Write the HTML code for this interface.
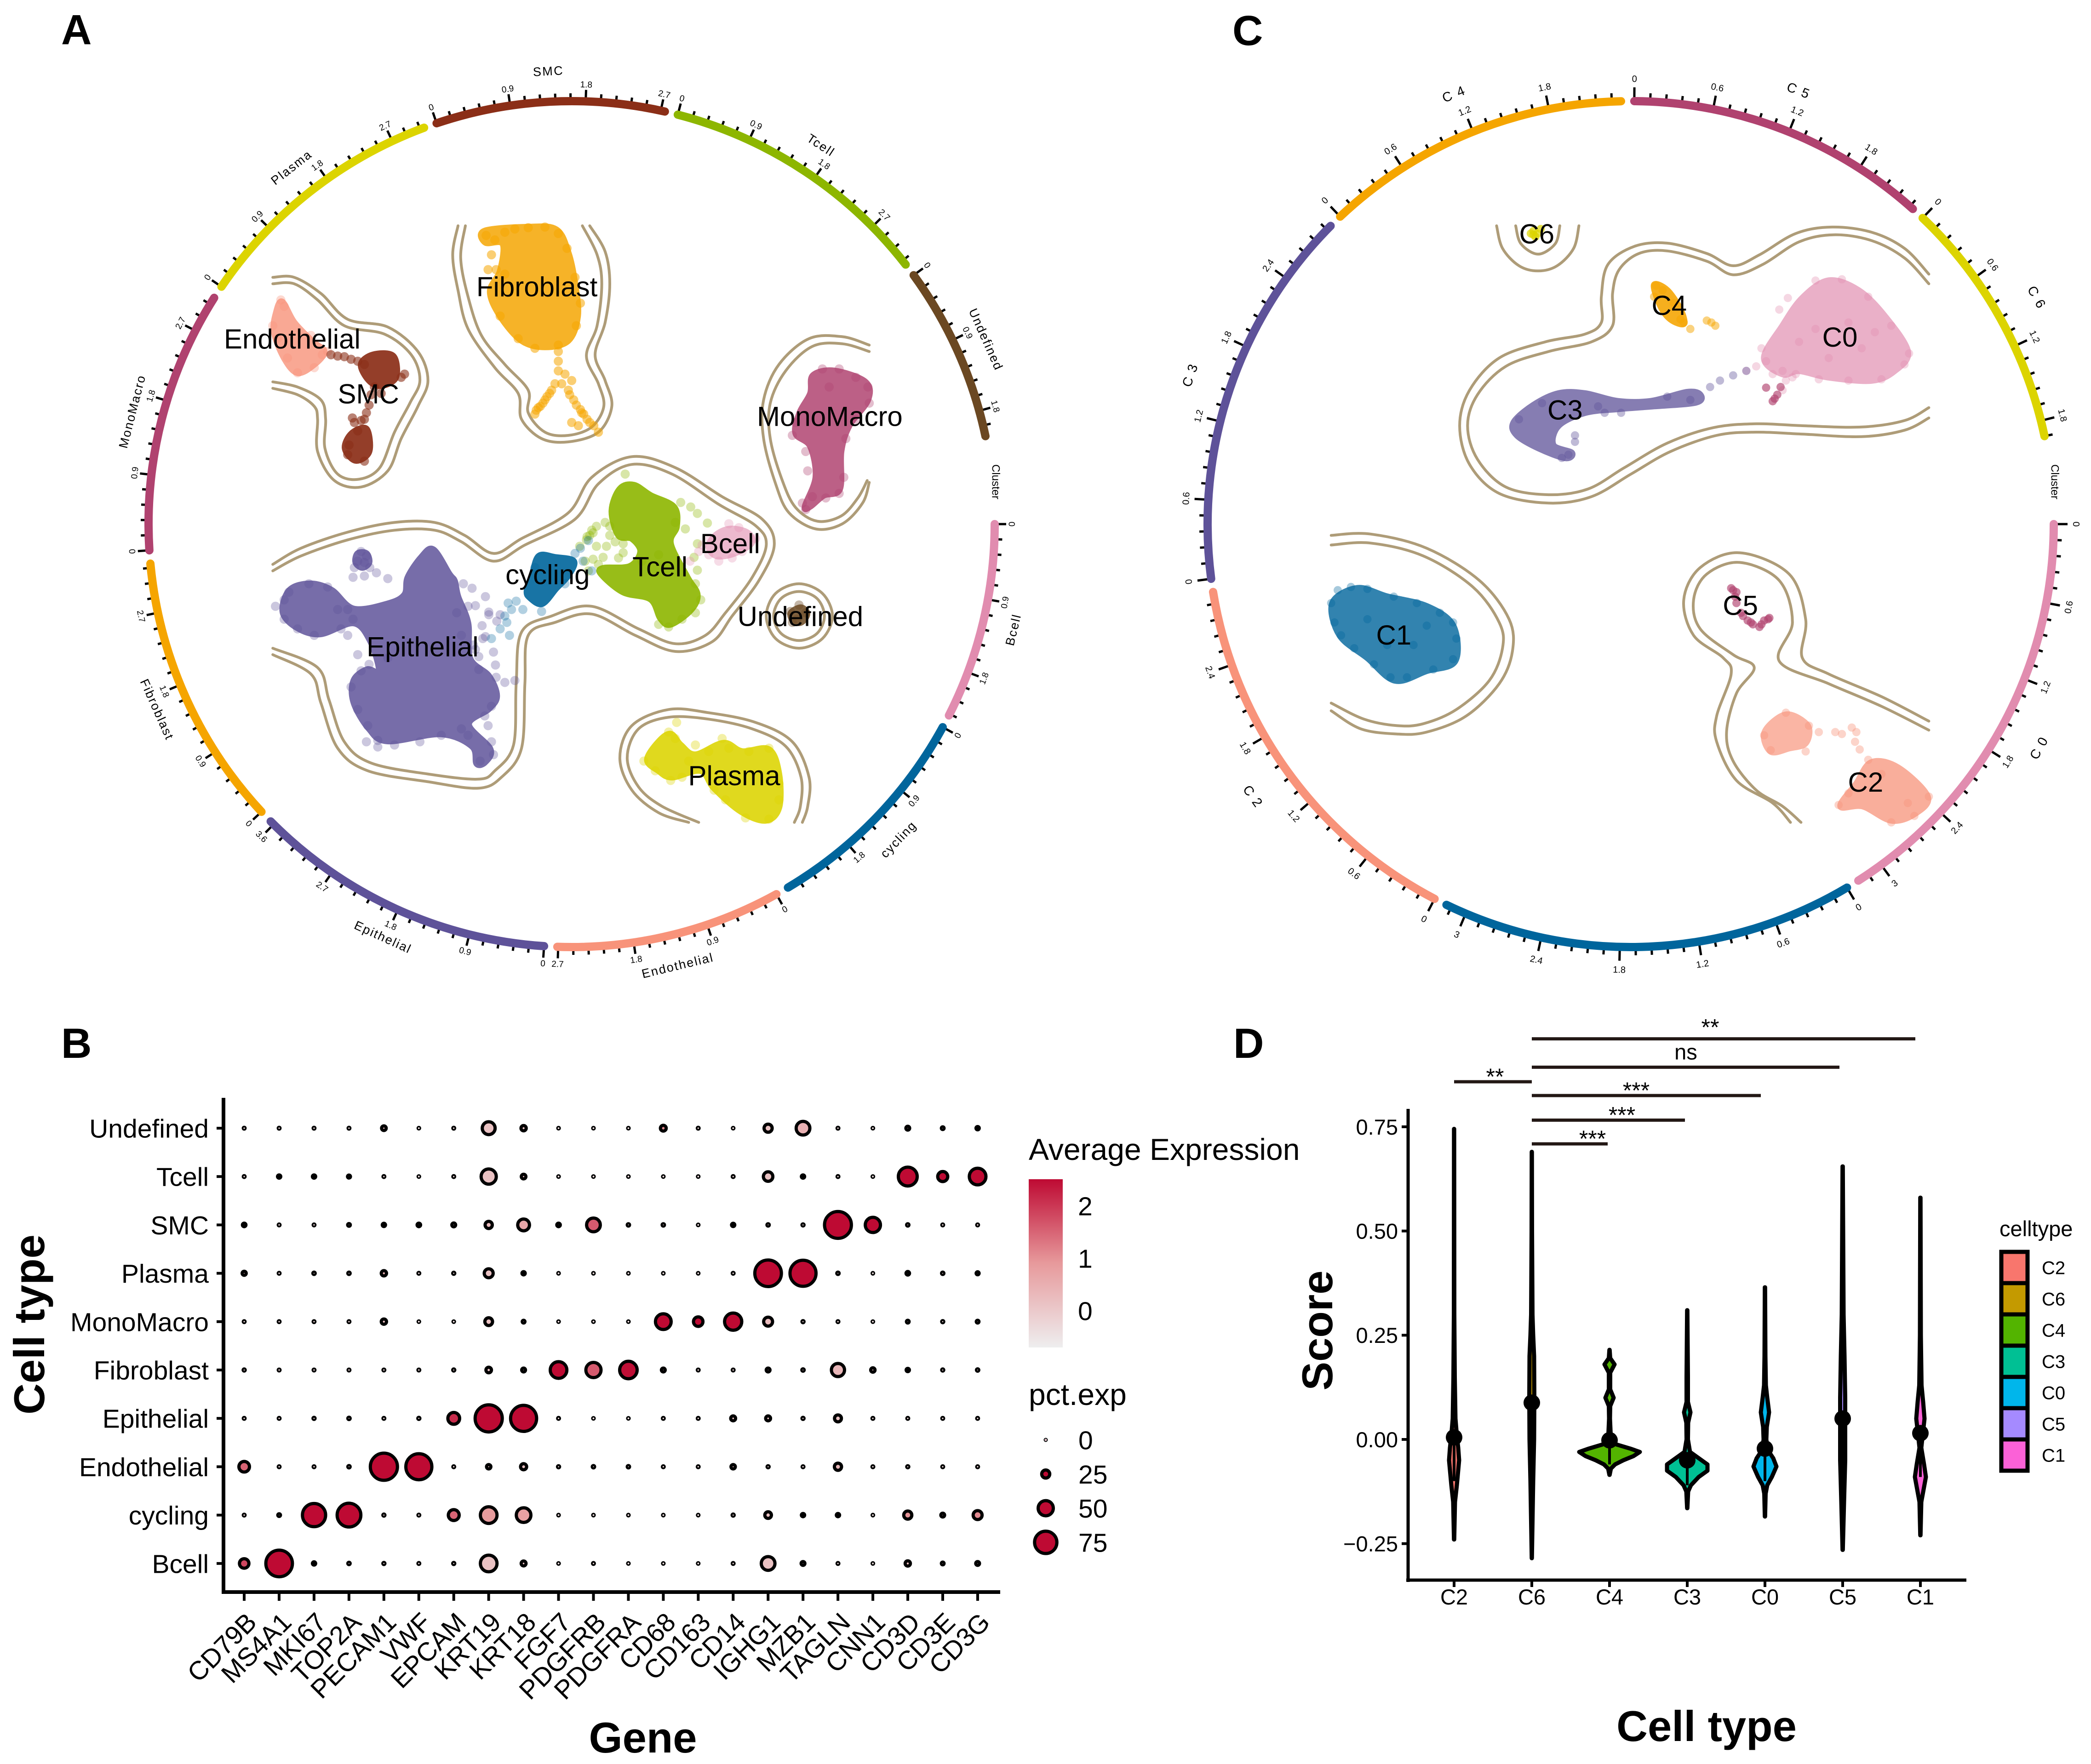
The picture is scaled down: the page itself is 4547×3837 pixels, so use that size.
<!DOCTYPE html>
<html lang="en">
<head>
<meta charset="utf-8">
<title>Single-cell atlas figure</title>
<style>
html,body{margin:0;padding:0;background:#fff;}
svg{display:block;}
text{font-family:"Liberation Sans",sans-serif;fill:#000;}
</style>
</head>
<body>
<svg id="fig" xmlns="http://www.w3.org/2000/svg" width="4547" height="3837" viewBox="0 0 4547 3837">
<defs>
<linearGradient id="expGrad" x1="0" y1="1" x2="0" y2="0">
<stop offset="0" stop-color="#EEEEEF"/>
<stop offset="0.5" stop-color="#E79A9C"/>
<stop offset="1" stop-color="#BE0A33"/>
</linearGradient>
</defs>
<rect x="0" y="0" width="4547" height="3837" fill="#fff"/>
<text x="133" y="96" font-size="92" font-weight="700">A</text>
<text x="133" y="2301" font-size="92" font-weight="700">B</text>
<text x="2680" y="98" font-size="92" font-weight="700">C</text>
<text x="2682" y="2301" font-size="92" font-weight="700">D</text>
<g id="panelA"></g>
<g id="panelC"></g>
<g id="panelB"></g>
<g id="panelD"></g>
<g>
<text x="2237" y="2523" font-size="66">Average Expression</text>
<rect x="2237" y="2565" width="74" height="366" fill="url(#expGrad)"/>
</g>
<text x="2237" y="3056" font-size="66">pct.exp</text>
<text x="4348" y="2689" font-size="47">celltype</text>
</svg>
<script>
var NS = 'http://www.w3.org/2000/svg';

/* ---------- Panel A: sectors ---------- */
var sectorNamesA = ['Bcell','cycling','Endothelial','Epithelial','Fibroblast','MonoMacro','Plasma','SMC','Tcell','Undefined'];
var sectorColorsA = ['#E18CAF','#00659C','#F8937A','#5E5299','#F5A500','#B0426F','#DCD400','#8B2E17','#8DB600','#6B4822'];
var sectorMaxA = [2.36,2.68,2.71,3.65,3.29,3.15,3.11,2.75,3.30,2.11];
var tickValuesA = [0,0.9,1.8,2.7,3.6];
var tickLabelsA = ['0','0.9','1.8','2.7','3.6'];

/* ---------- Panel C: sectors ---------- */
var sectorNamesC = ['C 0','C 1','C 2','C 3','C 4','C 5','C 6'];
var sectorColorsC = ['#E18CAF','#00659C','#F8937A','#5E5299','#F5A500','#B0426F','#DCD400'];
var sectorMaxC = [3.21,3.16,2.97,2.92,2.35,2.31,1.92];
var tickValuesC = [0,0.6,1.2,1.8,2.4,3];
var tickLabelsC = ['0','0.6','1.2','1.8','2.4','3'];
var clippedSectorNames = ['C 1'];

/* ---------- Panel A: UMAP clusters (UMAP units) ---------- */
var epithelialHull = [[630,864],[648,852],[672,890],[680,901],[685,925],[700,966],[703,1021],[731,1048],[743,1079],[731,1099],[701,1123],[733,1161],[726,1181],[713,1184],[706,1157],[660,1138],[580,1149],[552,1130],[529,1089],[529,1055],[549,1038],[567,1041],[554,994],[529,966],[479,983],[444,973],[423,949],[433,915],[464,905],[496,915],[529,944],[580,936],[605,922],[610,895]];
var epithelialSmallHull = [[535,858],[548,858],[552,872],[542,880],[532,872]];
var epithelialPts = [[540,855],[548,862],[535,870],[545,872],[553,880],[530,880],[528,895],[545,893],[563,888],[580,897],[412,940],[425,930],[432,918],[462,905],[490,910],[520,945],[528,960],[505,945],[706,912],[693,905],[726,925],[711,939],[731,949],[748,953],[743,963],[721,970],[726,987],[738,1011],[741,1031],[711,1007],[716,1038],[731,953],[755,1058],[770,1055],[725,1110],[735,1095],[730,1125],[735,1150],[738,1170],[718,1180],[700,1140],[690,1130],[660,1140],[628,1150],[590,1155],[565,1148],[550,1125],[535,1100],[525,1065],[540,1040],[552,1030],[580,1020],[535,1015],[520,985],[510,975],[470,985],[445,975],[425,960],[708,1000],[716,1018],[722,990],[742,1050],[548,1150],[565,1158],[683,950],[690,985],[700,940]];
var tcellHull = [[927,758],[948,752],[973,768],[1008,786],[1012,816],[1003,843],[1028,895],[1043,922],[1033,946],[1003,968],[988,959],[973,929],[932,918],[900,891],[902,881],[942,878],[958,855],[945,835],[925,830],[915,792]];
var tcellPts = [[935,735],[887,826],[877,837],[867,847],[892,816],[912,816],[887,867],[907,847],[932,857],[932,843],[892,847],[902,864],[912,830],[882,830],[885,822],[878,832],[1018,779],[1033,786],[1043,796],[1058,811],[1043,843],[1038,864],[1043,884],[880,885],[960,870],[985,860],[1040,905],[1048,930],[1040,950],[1020,960],[1000,972],[985,968],[1010,810],[1025,820],[905,810],[920,840],[925,865],[895,875],[875,870]];
var cyclingHull = [[806,862],[830,864],[858,870],[850,892],[832,912],[811,936],[793,927],[788,916],[796,891]];
var cyclingPts = [[860,858],[868,850],[880,838],[872,870],[885,885],[760,935],[772,932],[782,945],[765,945],[755,955],[762,985],[758,965],[735,990],[748,975],[810,948],[800,880],[845,905]];
var bcellHull = [[1070,830],[1092,820],[1118,826],[1124,842],[1098,858],[1072,862],[1060,848]];
var bcellPts = [[1050,845],[1060,860],[1075,870],[1095,865],[1110,855],[1130,835],[1090,812],[1105,818],[1045,855],[1062,835],[1032,870]];
var undefinedHull = [[1183,950],[1198,942],[1207,952],[1198,965],[1186,962]];
var undefinedPts = [[1195,938],[1182,948],[1205,950],[1192,960],[1185,965]];
var plasmaHull = [[968,1178],[985,1150],[1003,1138],[1018,1155],[1040,1170],[1082,1152],[1110,1165],[1150,1162],[1165,1200],[1165,1252],[1145,1272],[1108,1258],[1068,1222],[1048,1195],[1005,1205],[985,1195]];
var plasmaPts = [[963,1180],[980,1195],[1000,1135],[1010,1145],[1012,1120],[1080,1145],[1090,1160],[1060,1165],[1040,1155],[1120,1165],[1150,1160],[1165,1215],[1165,1240],[1150,1270],[1115,1268],[1085,1240],[1068,1225],[1020,1205],[1003,1210],[1030,1180]];
var monoHull = [[1216,582],[1248,575],[1294,592],[1298,620],[1270,660],[1258,700],[1256,758],[1232,768],[1212,785],[1204,785],[1220,740],[1212,692],[1190,672],[1196,640],[1212,610]];
var monoPts = [[1230,572],[1255,572],[1280,585],[1298,600],[1300,625],[1280,650],[1265,680],[1190,655],[1185,675],[1205,700],[1208,730],[1262,740],[1255,765],[1235,772],[1205,790],[1200,780],[1215,770],[1240,600]];
var endoHull = [[422,468],[440,500],[468,530],[485,545],[470,565],[445,578],[425,555],[410,515],[413,485]];
var endoPts = [[420,465],[425,475],[408,505],[415,525],[430,555],[445,578],[470,570],[482,550],[490,545],[465,520]];
var smcHull = [[558,550],[588,552],[592,585],[570,598],[552,590],[540,565]];
var smcHull2 = [[526,672],[548,665],[552,700],[532,714],[516,695]];
var smcPts = [[495,550],[505,552],[515,553],[525,557],[535,560],[545,565],[600,585],[560,600],[555,612],[552,628],[548,640],[540,652],[530,655],[527,648],[535,668],[545,650],[522,690],[545,715],[520,705],[570,610],[605,580]];
var fibroHull = [[725,358],[790,352],[832,356],[850,392],[860,440],[864,490],[850,528],[815,538],[780,528],[748,490],[733,452],[748,420],[752,378],[726,376]];
var fibroPts = [[727,365],[740,372],[755,360],[770,355],[790,353],[815,352],[835,362],[848,385],[730,418],[742,418],[755,425],[735,395],[860,430],[868,470],[862,505],[835,535],[800,540],[775,525],[748,490],[835,545],[835,560],[835,575],[845,580],[840,595],[855,590],[825,605],[815,620],[805,632],[800,642],[850,605],[858,620],[868,635],[878,650],[888,660],[855,655],[865,660],[830,595],[895,670],[808,630],[812,625],[818,615],[862,628],[873,642],[882,655],[802,636],[822,610],[852,612],[870,640]];

var contoursA = [
 [[685,350],[677,395],[685,450],[700,510],[740,570],[775,610],[780,650],[810,680],[850,685],[895,670],[915,630],[905,590],[890,550],[905,500],[912,440],[905,390],[882,350]],
 [[696,350],[689,400],[700,460],[720,520],[755,565],[790,605],[790,640],[815,670],[850,675],[885,662],[903,630],[895,595],[877,552],[893,505],[900,440],[893,395],[871,350]],
 [[408,430],[440,430],[480,455],[520,495],[580,507],[625,545],[640,590],[625,630],[600,680],[580,730],[540,755],[500,745],[475,700],[475,650],[470,630],[445,612],[408,602]],
 [[408,440],[440,440],[475,465],[515,505],[575,518],[615,550],[628,590],[613,625],[590,670],[568,725],[537,743],[505,735],[486,695],[487,650],[480,620],[445,600],[408,592]],
 [[1300,535],[1260,522],[1210,525],[1165,565],[1142,620],[1142,680],[1160,750],[1180,795],[1220,820],[1260,812],[1290,780],[1300,748]],
 [[1300,545],[1260,533],[1215,537],[1175,575],[1152,625],[1152,680],[1170,745],[1190,787],[1222,808],[1258,800],[1283,772],[1297,745]],
 [[408,875],[450,850],[520,825],[590,810],[650,810],[695,830],[738,858],[780,835],[850,795],[885,740],[945,708],[1010,725],[1080,770],[1140,805],[1158,845],[1135,900],[1095,955],[1065,995],[1010,1010],[950,985],[885,952],[830,965],[790,985],[785,1060],[780,1160],[750,1205],[715,1222],[640,1212],[550,1195],[505,1160],[480,1090],[465,1045],[408,1015]],
 [[408,885],[450,862],[520,837],[590,822],[650,822],[690,840],[738,870],[785,845],[860,805],[895,750],[945,720],[1005,735],[1075,782],[1130,815],[1146,845],[1125,895],[1085,950],[1055,985],[1010,998],[955,975],[885,940],[825,955],[780,980],[772,1060],[768,1155],[740,1195],[715,1208],[640,1200],[555,1183],[515,1150],[492,1085],[475,1035],[408,1005]],
 [[1030,1275],[985,1260],[945,1225],[927,1175],[945,1125],[1000,1100],[1060,1105],[1130,1120],[1185,1150],[1210,1205],[1208,1250],[1200,1275]],
 [[1045,1275],[990,1250],[955,1220],[938,1175],[955,1130],[1000,1112],[1060,1115],[1125,1130],[1175,1157],[1198,1205],[1197,1250],[1188,1275]]
];
var closedContoursA = [
 [[1195,905],[1230,920],[1245,955],[1230,990],[1195,1005],[1160,990],[1146,955],[1160,920]],
 [[1195,917],[1222,928],[1233,955],[1222,982],[1195,993],[1168,982],[1157,955],[1168,928]]
];
var labelTextA = ['Fibroblast','Endothelial','SMC','MonoMacro','Bcell','cycling','Tcell','Undefined','Epithelial','Plasma'];
var labelXA = [803,437,551,1241,1092,819,987,1197,632,1098];
var labelYA = [444,525,610,645,842,890,878,955,1002,1202];

/* ---------- Panel C: UMAP clusters ---------- */
var c0Hull = [[1170,435],[1215,450],[1255,490],[1290,545],[1270,575],[1235,590],[1170,585],[1125,575],[1100,580],[1072,555],[1100,505],[1130,462]];
var c0Pts = [[1068,540],[1075,560],[1060,568],[1045,575],[1095,480],[1108,462],[1150,435],[1190,433],[1230,460],[1265,505],[1292,548],[1285,565],[1250,588],[1200,590],[1155,588],[1120,580],[1100,575],[1085,580],[1105,590],[1115,585],[1100,605],[1200,500],[1150,510],[1220,540],[1125,530],[1170,555],[1240,515]];
var c1Hull = [[455,912],[500,925],[560,940],[600,970],[603,1025],[560,1040],[512,1055],[470,1020],[428,985],[417,935]];
var c1Pts = [[415,935],[425,915],[445,910],[470,913],[510,925],[545,935],[580,950],[600,965],[605,990],[600,1022],[570,1038],[530,1050],[505,1050],[480,1030],[450,1005],[430,985],[420,965],[470,960],[540,1000],[560,970],[500,1000]];
var c2Hull = [[1105,1108],[1138,1125],[1135,1152],[1110,1160],[1082,1165],[1073,1135]];
var c2Hull2 = [[1235,1182],[1275,1190],[1320,1235],[1300,1262],[1265,1272],[1222,1250],[1188,1250],[1212,1215]];
var c2Pts = [[1105,1105],[1140,1125],[1155,1135],[1135,1165],[1180,1135],[1190,1138],[1205,1128],[1212,1135],[1210,1150],[1217,1162],[1230,1178],[1322,1235],[1265,1275],[1185,1248],[1200,1230],[1300,1265],[1072,1140],[1082,1163],[1250,1200],[1290,1245]];
var c3Hull = [[722,628],[760,610],[800,610],[850,622],[900,622],[955,608],[975,612],[968,624],[900,630],[850,634],[800,640],[760,660],[752,690],[780,702],[770,710],[730,695],[697,675],[692,655]];
var c3Pts = [[990,600],[1005,590],[1025,582],[1045,575],[785,675],[785,685],[855,640],[820,630],[775,705],[765,710],[700,650],[960,620],[830,640],[735,625],[925,615]];
var c4Hull = [[905,442],[925,450],[945,480],[950,502],[930,495],[915,475]];
var c4Pts = [[908,443],[918,450],[935,470],[950,500],[985,497],[992,500],[998,505],[960,510],[905,460],[945,495]];
var c5Pts = [[1025,915],[1028,925],[1030,935],[1037,950],[1047,962],[1055,968],[1065,972],[1072,962],[1080,958],[1052,965],[1040,955],[1075,601],[1088,618],[1097,600],[1085,622],[1092,612],[1022,912],[1030,918],[1068,968],[1078,960]];
var c6Pts = [[722,358],[728,362],[718,362],[725,367],[733,355],[722,364]];
var contoursC = [
 [[666,350],[675,385],[700,412],[729,420],[758,412],[783,385],[791,350]],
 [[695,350],[703,378],[729,394],[755,378],[762,350]],
 [[1322,648],[1285,667],[1220,677],[1130,673],[1060,670],[1000,675],[930,700],[870,735],[810,770],[745,780],[670,765],[625,720],[610,660],[625,605],[670,555],[740,530],[800,518],[825,500],[825,460],[835,410],[875,382],[925,377],[985,393],[1025,412],[1065,395],[1120,362],[1175,352],[1235,360],[1285,385],[1322,425]],
 [[1322,632],[1285,652],[1220,662],[1130,660],[1060,657],[995,663],[925,687],[860,725],[805,758],[745,767],[680,755],[637,712],[622,660],[637,612],[680,568],[745,545],[810,530],[842,505],[842,455],[852,418],[882,393],[925,389],[985,405],[1025,426],[1070,410],[1125,375],[1178,364],[1235,373],[1285,400],[1322,440]],
 [[415,830],[475,828],[560,850],[640,900],[685,960],[690,1010],[670,1060],[620,1110],[560,1135],[515,1138],[460,1130],[415,1102]],
 [[415,845],[475,842],[555,862],[630,910],[670,965],[675,1005],[655,1055],[605,1100],[555,1122],[515,1125],[465,1115],[415,1090]],
 [[1322,1118],[1250,1080],[1170,1045],[1130,1020],[1135,960],[1110,890],[1035,857],[975,880],[950,930],[965,985],[1010,1020],[1022,1045],[1000,1110],[1000,1150],[1030,1210],[1085,1245],[1112,1275]],
 [[1322,1132],[1250,1095],[1170,1060],[1095,1025],[1115,965],[1095,900],[1035,872],[985,890],[965,930],[975,975],[1025,1015],[1057,1035],[1030,1075],[1015,1135],[1025,1180],[1060,1225],[1100,1250],[1128,1275]]
];
var labelTextC = ['C6','C4','C0','C3','C1','C5','C2'];
var labelXC = [727,928,1187,770,510,1036,1226];
var labelYC = [362,473,522,635,984,938,1212];

/* ---------- Panel B: dot plot ---------- */
var genes = ['CD79B','MS4A1','MKI67','TOP2A','PECAM1','VWF','EPCAM','KRT19','KRT18','FGF7','PDGFRB','PDGFRA','CD68','CD163','CD14','IGHG1','MZB1','TAGLN','CNN1','CD3D','CD3E','CD3G'];
var cellTypes = ['Undefined','Tcell','SMC','Plasma','MonoMacro','Fibroblast','Epithelial','Endothelial','cycling','Bcell'];
var pctExp = [
 [3,3,3,3,13,2,3,42,15,2,2,2,17,3,2,25,45,3,2,10,6,8],
 [3,8,8,7,3,2,3,50,13,2,2,2,2,2,3,30,8,3,2,63,32,55],
 [9,3,3,6,8,9,10,22,38,9,45,5,5,2,8,5,4,91,50,5,3,3],
 [11,3,5,5,15,3,4,28,8,2,2,2,2,2,3,90,88,5,2,9,5,7],
 [3,3,3,3,15,2,2,24,6,2,2,2,52,30,57,28,4,3,2,6,4,6],
 [4,3,3,3,3,3,4,16,10,55,50,58,10,3,3,10,5,43,12,8,4,5],
 [3,3,4,5,3,4,38,92,88,3,2,2,3,3,14,14,4,21,3,3,3,3],
 [34,3,3,5,92,88,3,12,18,4,5,5,3,3,12,4,3,22,3,4,3,3],
 [3,6,78,80,4,3,35,55,48,2,2,2,2,2,4,20,8,8,2,25,10,28],
 [30,90,8,5,4,3,4,55,14,2,3,2,2,2,3,45,10,3,2,15,6,10]
];
var avgExp = [
 [-.3,-.3,-.3,-.3,.2,-.3,-.3,.1,.1,-.3,-.3,-.3,1,-.3,-.3,.1,.4,-.3,-.3,.2,-.3,-.3],
 [-.3,-.3,-.3,-.3,-.3,-.3,-.3,.1,.1,-.3,-.3,-.3,-.3,-.3,-.3,.1,-.3,-.3,-.3,2.4,2.4,2.4],
 [-.3,-.3,-.3,-.3,-.3,-.3,-.3,.2,.6,-.3,1.5,-.3,-.3,-.3,-.3,-.3,-.3,2.5,2.4,-.3,-.3,-.3],
 [.3,-.3,-.3,-.3,.4,-.3,-.3,.1,.1,-.3,-.3,-.3,-.3,-.3,-.3,2.5,2.5,-.3,-.3,.2,-.3,-.3],
 [-.3,-.3,-.3,-.3,.1,-.3,-.3,.1,-.3,-.3,-.3,-.3,2.4,2.4,2.4,.2,-.3,-.3,-.3,-.3,-.3,-.3],
 [-.3,-.3,-.3,-.3,-.3,-.3,-.3,.1,.1,2.4,1.5,2.3,.1,-.3,-.3,.1,-.3,.3,.1,.1,-.3,-.3],
 [-.3,-.3,-.3,-.3,-.3,-.3,2,2.4,2.4,-.3,-.3,-.3,-.3,-.3,.1,.1,-.3,.1,-.3,-.3,-.3,-.3],
 [1.4,-.3,-.3,-.3,2.5,2.4,-.3,.1,.1,-.3,-.3,-.3,-.3,-.3,.1,-.3,-.3,.3,-.3,-.3,-.3,-.3],
 [-.3,-.3,2.5,2.5,-.3,-.3,1.4,.8,.7,-.3,-.3,-.3,-.3,-.3,-.3,.1,-.3,-.3,-.3,.9,.1,1],
 [1.7,2.5,-.3,-.3,-.3,-.3,-.3,.1,.1,-.3,-.3,-.3,-.3,-.3,-.3,.1,-.3,-.3,-.3,.2,-.3,.1]
];
var expTicks = [2,1,0];
var pctLegendValues = [0,25,50,75];

/* ---------- Panel D: violins ---------- */
var violinCats = ['C2','C6','C4','C3','C0','C5','C1'];
var violinColors = ['#F8766D','#C49A00','#53B400','#00C094','#00B6EB','#A58AFF','#FB61D7'];
var yTicksD = [0.75,0.5,0.25,0,-0.25];
var yTickLabelsD = ['0.75','0.50','0.25','0.00','\u22120.25'];
var scoresC2 = [-.24,-.15,-.11,-.05,-.02,.01,.05,.15,.3,.745];
var densityC2 = [.3,2,6,11,9,6,3,1.5,.5,.2];
var scoresC6 = [-.285,-.1,0,.1,.2,.25,.3,.5,.69];
var densityC6 = [.2,3,5,5.5,5,3,1.5,.5,.2];
var scoresC4 = [-.085,-.07,-.06,-.05,-.04,-.03,-.022,-.012,0,.05,.08,.1,.12,.16,.18,.195,.215];
var densityC4 = [.3,3,12,30,52,66,45,15,3,1,1.5,9,1.5,1.5,11,1.5,.3];
var scoresC3 = [-.165,-.125,-.11,-.09,-.075,-.06,-.045,-.03,0,.04,.065,.09,.15,.31];
var densityC3 = [.3,2,8,25,44,44,25,6,1.5,2,7,1.5,1.5,.3];
var scoresC0 = [-.185,-.13,-.11,-.09,-.065,-.045,-.025,0,.03,.065,.1,.13,.2,.365];
var densityC0 = [.3,1.5,5,15,25,18,6,3,4,9,5,2,1,.3];
var scoresC5 = [-.265,-.15,-.05,0,.05,.1,.2,.3,.655];
var densityC5 = [.3,3,5.5,5.5,5.5,5.5,4,2,.3];
var scoresC1 = [-.23,-.15,-.12,-.09,-.06,-.02,.01,.05,.09,.13,.25,.58];
var densityC1 = [.3,2,7,12,8,2,5,9,6,2.5,1,.3];
var violinMeans = [.005,.088,-.002,-.05,-.022,.05,.015];
var innerLow = [-.1,-.2,-.06,-.11,-.1,-.2,-.09];
var bracketFrom = ['C6','C6','C2','C6','C6','C6'];
var bracketTo = ['C1','C5','C6','C0','C3','C4'];
var bracketLabels = ['**','ns','**','***','***','***'];
var bracketScores = [.961,.893,.858,.825,.766,.709];
var bracketLabelCenter = [3719,3666,3251,3558,3527,3463];

/* ---------- Axis functions ---------- */
function ax(v){return 1.454*v;}
function ay(v){return 1.403*v;}
function cx(v){return 2300+1.433*v;}
function cy(v){return 1.403*v;}
function colX(i){return 531+75.95*i;}
function rowY(i){return 2454+105.2*i;}
function dotDiameter(p){return 9+0.62*p;}
function expColor(v){
 var t=Math.max(0,Math.min(1,(v+0.7)/3.05)),lo,hi,u;
 if(t<.5){lo=[238,238,239];hi=[231,154,156];u=t/.5;}
 else{lo=[231,154,156];hi=[190,10,51];u=(t-.5)/.5;}
 return 'rgb('+Math.round(lo[0]+(hi[0]-lo[0])*u)+','+Math.round(lo[1]+(hi[1]-lo[1])*u)+','+Math.round(lo[2]+(hi[2]-lo[2])*u)+')';
}
function expY(v){return 2851-114*v;}
function violinX(i){return 3162+169*i;}
function scoreY(v){return 3131-906.7*v;}

function mk(tag,parent,attrs){
 var el=document.createElementNS(NS,tag);
 for(var k in attrs){el.setAttribute(k,attrs[k]);}
 parent.appendChild(el);
 return el;
}
function smooth(pts,closed){
 var n=pts.length,d='M'+pts[0][0].toFixed(1)+' '+pts[0][1].toFixed(1);
 var last=closed?n:n-1;
 for(var i=0;i<last;i++){
  var p0=closed?pts[(i-1+n)%n]:pts[Math.max(i-1,0)];
  var p1=pts[i%n];
  var p2=pts[(i+1)%n];
  var p3=closed?pts[(i+2)%n]:pts[Math.min(i+2,n-1)];
  d+='C'+(p1[0]+(p2[0]-p0[0])/6).toFixed(1)+' '+(p1[1]+(p2[1]-p0[1])/6).toFixed(1)+' '+(p2[0]-(p3[0]-p1[0])/6).toFixed(1)+' '+(p2[1]-(p3[1]-p1[1])/6).toFixed(1)+' '+p2[0].toFixed(1)+' '+p2[1].toFixed(1);
 }
 return d+(closed?'Z':'');
}
function polar(cxx,cyy,r,deg){
 var a=deg*Math.PI/180;
 return [cxx+r*Math.cos(a),cyy+r*Math.sin(a)];
}
function textRot(deg){
 var a=((deg%360)+360)%360;
 return a<180?a-90:a+90;
}
function rotText(parent,str,x,y,rot,size,spacing){
 var t=mk('text',parent,{x:x.toFixed(1),y:y.toFixed(1),'font-size':size,'text-anchor':'middle',dy:'.36em',transform:'rotate('+rot.toFixed(2)+' '+x.toFixed(1)+' '+y.toFixed(1)+')'});
 if(spacing){t.setAttribute('letter-spacing',spacing);}
 t.textContent=str;
 return t;
}

/* ---------- Ring ---------- */
function drawRing(parent,o){
 var sum=0,i;
 for(i=0;i<o.max.length;i++){sum+=o.max[i];}
 var gap=1.8,total=348-gap*(o.max.length-1),perUnit=total/sum,start=0;
 for(i=0;i<o.max.length;i++){
  var end=start+o.max[i]*perUnit;
  var step=o.step/5;
  for(var k=0;k*step<=o.max[i]+1e-6;k++){
   var ang=start+k*step*perUnit,major=(k%5===0);
   var p1=polar(o.cx,o.cy,o.r+3,ang),p2=polar(o.cx,o.cy,o.r+(major?o.majorLen:o.minorLen),ang);
   var tk=mk('line',parent,{x1:p1[0].toFixed(1),y1:p1[1].toFixed(1),x2:p2[0].toFixed(1),y2:p2[1].toFixed(1),stroke:'#000','stroke-width':5});
   
   
   if(major){
    var lp=polar(o.cx,o.cy,o.r+o.labelGap,ang);
    var idx=k/5;
    var lab=rotText(parent,o.tickLabels[idx],lp[0],lp[1],textRot(ang),o.tickSize);
    
    
   }
  }
  var a=polar(o.cx,o.cy,o.r,start),b=polar(o.cx,o.cy,o.r,end);
  var seg=mk('path',parent,{d:'M'+a[0].toFixed(1)+' '+a[1].toFixed(1)+'A'+o.r+' '+o.r+' 0 0 1 '+b[0].toFixed(1)+' '+b[1].toFixed(1),fill:'none',stroke:o.colors[i],'stroke-width':18,'stroke-linecap':'round'});
  
  
  if(clippedSectorNames.indexOf(o.names[i])<0){
   var mid=(start+end)/2,np=polar(o.cx,o.cy,o.r+o.nameGap,mid);
   var nm=rotText(parent,o.names[i],np[0],np[1],textRot(mid),o.nameSize,2.4);
   
   
  }
  start=end+gap;
 }
 var cl=rotText(parent,'Cluster',o.cx+o.r+3,1048,90,24);
 
 
}
var gA=document.getElementById('panelA'),gC=document.getElementById('panelC');
drawRing(gA,{cx:1243,cy:1140,r:920,max:sectorMaxA,names:sectorNamesA,colors:sectorColorsA,step:tickValuesA[1]-tickValuesA[0],tickLabels:tickLabelsA,majorLen:25,minorLen:17,labelGap:37,nameGap:67,tickSize:19,nameSize:27});
drawRing(gC,{cx:3546,cy:1140,r:920,max:sectorMaxC,names:sectorNamesC,colors:sectorColorsC,step:tickValuesC[1]-tickValuesC[0],tickLabels:tickLabelsC,majorLen:30,minorLen:18,labelGap:49,nameGap:92,tickSize:20,nameSize:29});

/* ---------- UMAP ---------- */
function mapPts(pts,fx,fy){return pts.map(function(p){return [fx(p[0]),fy(p[1])];});}
function drawContours(parent,list,fx,fy,closed){
 list.forEach(function(pts){
  var c=mk('path',parent,{d:smooth(mapPts(pts,fx,fy),closed),fill:'none',stroke:'#AE9C78','stroke-width':6,'stroke-linecap':'round','stroke-linejoin':'round'});
  
  
 });
}
function drawHull(parent,pts,color,fx,fy,alpha){
 var h=mk('path',parent,{d:smooth(mapPts(pts,fx,fy),true),fill:color,stroke:color,'stroke-width':14,'stroke-linejoin':'round',opacity:alpha});
 
 
}
function drawPts(parent,pts,color,fx,fy,alpha,r){
 pts.forEach(function(p){
  var c=mk('circle',parent,{cx:fx(p[0]).toFixed(1),cy:fy(p[1]).toFixed(1),r:r,fill:color,'fill-opacity':alpha});
  
  
 });
}
function drawLabels(parent,texts,xs,ys,fx,fy){
 texts.forEach(function(t,i){
  var el=mk('text',parent,{x:fx(xs[i]).toFixed(1),y:fy(ys[i]).toFixed(1),dy:'.36em','font-size':60,'text-anchor':'middle'});
  el.textContent=t;
  
  
 });
}
drawContours(gA,contoursA,ax,ay,false);
drawContours(gA,closedContoursA,ax,ay,true);
var hullsA=[[epithelialHull,'#5E5299',.84],[epithelialSmallHull,'#5E5299',.85],[tcellHull,'#8DB600',.9],[cyclingHull,'#00659C',.9],[bcellHull,'#E18CAF',.6],[undefinedHull,'#6B4822',.85],[plasmaHull,'#DCD400',.88],[monoHull,'#B0426F',.84],[endoHull,'#F8937A',.8],[smcHull,'#8B2E17',.92],[smcHull2,'#8B2E17',.92],[fibroHull,'#F5A500',.84]];
hullsA.forEach(function(h){drawHull(gA,h[0],h[1],ax,ay,h[2]);});
var ptsA=[[epithelialPts,'#5E5299',.32],[tcellPts,'#8DB600',.34],[cyclingPts,'#00659C',.3],[bcellPts,'#E18CAF',.3],[undefinedPts,'#6B4822',.4],[plasmaPts,'#DCD400',.35],[monoPts,'#B0426F',.35],[endoPts,'#F8937A',.35],[smcPts,'#8B2E17',.6],[fibroPts,'#F5A500',.55]];
ptsA.forEach(function(p){drawPts(gA,p[0],p[1],ax,ay,p[2],10);});
drawLabels(gA,labelTextA,labelXA,labelYA,ax,ay);

drawContours(gC,contoursC,cx,cy,false);
var hullsC=[[c0Hull,'#E18CAF',.68],[c1Hull,'#00659C',.8],[c2Hull,'#F8937A',.68],[c2Hull2,'#F8937A',.75],[c3Hull,'#5E5299',.75],[c4Hull,'#F5A500',.88]];
hullsC.forEach(function(h){drawHull(gC,h[0],h[1],cx,cy,h[2]);});
var ptsC=[[c0Pts,'#E18CAF',.35],[c1Pts,'#00659C',.35],[c2Pts,'#F8937A',.4],[c3Pts,'#5E5299',.4],[c4Pts,'#F5A500',.5],[c5Pts,'#B0426F',.65],[c6Pts,'#DCD400',.7]];
ptsC.forEach(function(p){drawPts(gC,p[0],p[1],cx,cy,p[2],9);});
drawLabels(gC,labelTextC,labelXC,labelYC,cx,cy);

/* ---------- Panel B ---------- */
var gB=document.getElementById('panelB');
var el;
el=mk('line',gB,{x1:486,y1:2388,x2:486,y2:3467,stroke:'#000','stroke-width':8});


el=mk('line',gB,{x1:482,y1:3463,x2:2175,y2:3463,stroke:'#000','stroke-width':8});


cellTypes.forEach(function(name,r){
 var tk=mk('line',gB,{x1:471,y1:rowY(r),x2:486,y2:rowY(r),stroke:'#000','stroke-width':6});
 
 
 var tl=mk('text',gB,{x:454,y:rowY(r),dy:'.36em','font-size':57,'text-anchor':'end'});
 tl.textContent=name;
 
 
});
genes.forEach(function(name,c){
 var tk=mk('line',gB,{x1:colX(c),y1:3463,x2:colX(c),y2:3482,stroke:'#000','stroke-width':6});
 
 
 var tx=colX(c)+2,ty=3504;
 var tl=mk('text',gB,{x:tx,y:ty,'font-size':57,'text-anchor':'end',dy:'.7em',transform:'rotate(-45 '+tx+' '+ty+')'});
 tl.textContent=name;
 
 
});
cellTypes.forEach(function(name,r){
 genes.forEach(function(g,c){
  var d=dotDiameter(pctExp[r][c]);
  var dot=mk('circle',gB,{cx:colX(c).toFixed(1),cy:rowY(r).toFixed(1),r:Math.max(.8,(d-7)/2).toFixed(1),fill:expColor(avgExp[r][c]),stroke:'#000','stroke-width':7});
  
  
 });
});
el=mk('text',gB,{'font-size':94,'font-weight':700,'text-anchor':'middle',x:0,y:0,transform:'translate(96 2881) rotate(-90)'});
el.textContent='Cell type';


el=mk('text',gB,{'font-size':94,'font-weight':700,'text-anchor':'middle',x:1398,y:3812});
el.textContent='Gene';


expTicks.forEach(function(v){
 var a=mk('line',gB,{x1:2237,x2:2252,y1:expY(v),y2:expY(v),stroke:'#fff','stroke-width':4});
 
 
 var b=mk('line',gB,{x1:2296,x2:2311,y1:expY(v),y2:expY(v),stroke:'#fff','stroke-width':4});
 
 
 var t=mk('text',gB,{x:2344,y:expY(v),dy:'.36em','font-size':57});
 t.textContent=String(v);
 
 
});
pctLegendValues.forEach(function(v,i){
 var y=3132+74.3*i;
 var d=dotDiameter(v);
 var c=mk('circle',gB,{cx:2274,cy:y,r:Math.max(.8,(d-7)/2),fill:'#BE0A33',stroke:'#000','stroke-width':7});
 
 
 var t=mk('text',gB,{x:2345,y:y,dy:'.36em','font-size':57});
 t.textContent=String(v);
 
 
});

/* ---------- Panel D ---------- */
var gD=document.getElementById('panelD');
var allScores=[scoresC2,scoresC6,scoresC4,scoresC3,scoresC0,scoresC5,scoresC1];
var allDensity=[densityC2,densityC6,densityC4,densityC3,densityC0,densityC5,densityC1];
el=mk('line',gD,{x1:3062,y1:2412,x2:3062,y2:3441,stroke:'#000','stroke-width':7});


el=mk('line',gD,{x1:3058,y1:3437,x2:4276,y2:3437,stroke:'#000','stroke-width':7});


yTicksD.forEach(function(v,i){
 var tk=mk('line',gD,{x1:3048,x2:3062,y1:scoreY(v),y2:scoreY(v),stroke:'#000','stroke-width':6});
 
 
 var t=mk('text',gD,{x:3040,y:scoreY(v),dy:'.36em','font-size':47,'text-anchor':'end'});
 t.textContent=yTickLabelsD[i];
 
 
});
violinCats.forEach(function(name,i){
 var x=violinX(i),sc=allScores[i],de=allDensity[i],pts=[],k;
 var tk=mk('line',gD,{x1:x,x2:x,y1:3437,y2:3452,stroke:'#000','stroke-width':6});
 
 
 var t=mk('text',gD,{x:x,y:3490,'font-size':47,'text-anchor':'middle'});
 t.textContent=name;
 
 
 for(k=0;k<sc.length;k++){pts.push([x+de[k],scoreY(sc[k])]);}
 for(k=sc.length-1;k>=0;k--){pts.push([x-de[k],scoreY(sc[k])]);}
 var d='M'+pts.map(function(p){return p[0].toFixed(1)+' '+p[1].toFixed(1);}).join('L')+'Z';
 var v=mk('path',gD,{d:d,fill:violinColors[i],stroke:'#000','stroke-width':9,'stroke-linejoin':'round'});
 
 
 var ln=mk('line',gD,{x1:x,x2:x,y1:scoreY(violinMeans[i]),y2:scoreY(innerLow[i]),stroke:'#000','stroke-width':6});
 
 
 var m=mk('circle',gD,{cx:x,cy:scoreY(violinMeans[i]).toFixed(1),r:18,fill:'#000'});
 
 
});
var bracketTrim=[11,7,0,9,5,4];
bracketLabels.forEach(function(lab,i){
 var x1=violinX(violinCats.indexOf(bracketFrom[i])),x2=violinX(violinCats.indexOf(bracketTo[i]))-bracketTrim[i];
 var y=scoreY(bracketScores[i]);
 var b=mk('line',gD,{x1:x1,x2:x2,y1:y,y2:y,stroke:'#231815','stroke-width':7});
 
 
 var by=lab==='ns'?y-17:(i===0?y-8:y+6);
 var t=mk('text',gD,{x:bracketLabelCenter[i],y:by,'font-size':lab==='ns'?47:50,'text-anchor':'middle','font-weight':400});
 t.textContent=lab;
 
 
});
el=mk('text',gD,{'font-size':94,'font-weight':700,'text-anchor':'middle',x:0,y:0,transform:'translate(2897 2894) rotate(-90)'});
el.textContent='Score';


el=mk('text',gD,{'font-size':94,'font-weight':700,'text-anchor':'middle',x:3711,y:3787});
el.textContent='Cell type';


violinCats.forEach(function(name,i){
 var y=2723+68*i;
 var r=mk('rect',gD,{x:4352,y:y,width:57,height:68,fill:violinColors[i],stroke:'#000','stroke-width':9});
 
 
 var t=mk('text',gD,{x:4440,y:y+34,dy:'.36em','font-size':40});
 t.textContent=name;
 
 
});
</script>
</body>
</html>
